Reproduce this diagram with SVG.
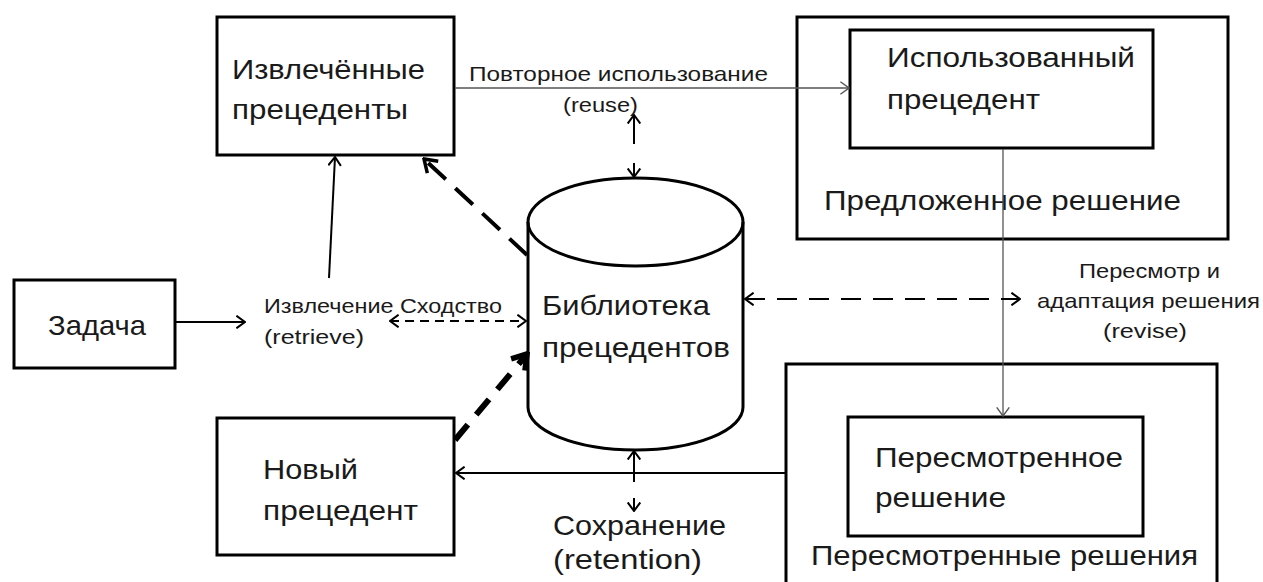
<svg xmlns="http://www.w3.org/2000/svg" width="1263" height="582" viewBox="0 0 1263 582">
<style>
.box{fill:#fff;stroke:#000;stroke-width:3}
.outer{fill:none;stroke:#000;stroke-width:3}
.t{font-family:"Liberation Sans",Arial,sans-serif;fill:#1a1a1a}
.big{font-size:28px}
.lbl{font-size:21px}
.thin{fill:none;stroke:#555;stroke-width:1.3}
.med{fill:none;stroke:#000;stroke-width:2}
</style>
<defs>
<marker id="ah" viewBox="0 0 10 14" markerUnits="userSpaceOnUse" markerWidth="10" markerHeight="14" refX="9.3" refY="7" orient="auto-start-reverse">
<path d="M0.7,0.7 L9.3,7 L0.7,13.3" fill="none" stroke="#000" stroke-width="2"/>
</marker>
<marker id="ahg" viewBox="0 0 10 14" markerUnits="userSpaceOnUse" markerWidth="10" markerHeight="14" refX="9.3" refY="7" orient="auto-start-reverse">
<path d="M0.7,0.7 L9.3,7 L0.7,13.3" fill="none" stroke="#555" stroke-width="1.4"/>
</marker>
<marker id="ahk" viewBox="0 0 16 20" markerUnits="userSpaceOnUse" markerWidth="16" markerHeight="20" refX="14" refY="10" orient="auto">
<path d="M2,2 L14,10 L2,18" fill="none" stroke="#000" stroke-width="3.5"/>
</marker>
<marker id="ahx" viewBox="0 0 20 24" markerUnits="userSpaceOnUse" markerWidth="20" markerHeight="24" refX="17" refY="12" orient="auto">
<path d="M3,3 L17,12 L3,21" fill="none" stroke="#000" stroke-width="5.5"/>
</marker>
</defs>

<g id="node-extracted">
<rect class="box" x="217" y="17" width="237" height="138"/>
<text class="t big" x="232" y="79" textLength="193" lengthAdjust="spacingAndGlyphs">Извлечённые</text>
<text class="t big" x="232" y="119" textLength="176" lengthAdjust="spacingAndGlyphs">прецеденты</text>
</g>

<g id="node-proposed">
<rect class="outer" x="797" y="17" width="431" height="222"/>
<rect class="box" x="850" y="30" width="303" height="118"/>
<text class="t big" x="887" y="67" textLength="248" lengthAdjust="spacingAndGlyphs">Использованный</text>
<text class="t big" x="887" y="109" textLength="153" lengthAdjust="spacingAndGlyphs">прецедент</text>
<text class="t big" x="824" y="210" textLength="357" lengthAdjust="spacingAndGlyphs">Предложенное решение</text>
</g>

<g id="node-task">
<rect class="box" x="14" y="280" width="161" height="88"/>
<text class="t big" x="48" y="335" textLength="98" lengthAdjust="spacingAndGlyphs">Задача</text>
</g>

<g id="node-library">
<path d="M528,222 L528,407 A107.5,43 0 0 0 743,407 L743,222 A107.5,44 0 0 0 528,222 Z" fill="#fff" stroke="#000" stroke-width="3"/>
<path d="M528,222 A107.5,44 0 0 0 743,222" fill="none" stroke="#000" stroke-width="3"/>
<text class="t big" x="542" y="315" textLength="168" lengthAdjust="spacingAndGlyphs">Библиотека</text>
<text class="t big" x="542" y="357" textLength="188" lengthAdjust="spacingAndGlyphs">прецедентов</text>
</g>

<g id="node-new">
<rect class="box" x="217" y="418" width="237" height="137"/>
<text class="t big" x="263" y="479" textLength="95" lengthAdjust="spacingAndGlyphs">Новый</text>
<text class="t big" x="263" y="520" textLength="155" lengthAdjust="spacingAndGlyphs">прецедент</text>
</g>

<g id="node-revised">
<path class="outer" d="M786,590 L786,364 L1217,364 L1217,590"/>
<rect class="box" x="848" y="417" width="295" height="119"/>
<text class="t big" x="875" y="467" textLength="248" lengthAdjust="spacingAndGlyphs">Пересмотренное</text>
<text class="t big" x="875" y="507" textLength="131" lengthAdjust="spacingAndGlyphs">решение</text>
<text class="t big" x="811" y="565" textLength="387" lengthAdjust="spacingAndGlyphs">Пересмотренные решения</text>
</g>

<g id="labels">
<text class="t lbl" x="469" y="81" textLength="299" lengthAdjust="spacingAndGlyphs">Повторное использование</text>
<text class="t lbl" x="563" y="112" textLength="75" lengthAdjust="spacingAndGlyphs">(reuse)</text>
<text class="t lbl" x="264" y="313" textLength="238" lengthAdjust="spacingAndGlyphs">Извлечение Сходство</text>
<text class="t lbl" x="264" y="344" textLength="100" lengthAdjust="spacingAndGlyphs">(retrieve)</text>
<text class="t lbl" x="1079" y="278" textLength="141" lengthAdjust="spacingAndGlyphs">Пересмотр и</text>
<text class="t lbl" x="1037" y="308" textLength="223" lengthAdjust="spacingAndGlyphs">адаптация решения</text>
<text class="t lbl" x="1103" y="338" textLength="84" lengthAdjust="spacingAndGlyphs">(revise)</text>
<text class="t big" x="553" y="535" textLength="173" lengthAdjust="spacingAndGlyphs">Сохранение</text>
<text class="t big" x="553" y="569" textLength="149" lengthAdjust="spacingAndGlyphs">(retention)</text>
</g>

<g id="connectors">
<line class="thin" x1="455" y1="88" x2="849" y2="88" marker-end="url(#ahg)"/>
<line class="thin" x1="1003" y1="149" x2="1003" y2="416" marker-end="url(#ahg)"/>
<line class="med" x1="176" y1="322" x2="245" y2="322" marker-end="url(#ah)"/>
<line class="med" x1="329" y1="278" x2="335" y2="157" marker-end="url(#ah)"/>
<line class="med" x1="786" y1="473" x2="456" y2="473" marker-end="url(#ah)"/>
<line class="med" x1="390" y1="321" x2="526" y2="321" stroke-dasharray="9 6" marker-start="url(#ah)" marker-end="url(#ah)"/>
<line class="med" x1="745" y1="299" x2="1020" y2="299" stroke-dasharray="20 12" marker-start="url(#ah)" marker-end="url(#ah)"/>
<line class="med" x1="634" y1="115" x2="634" y2="177" stroke-dasharray="29 19 100" marker-start="url(#ah)" marker-end="url(#ah)"/>
<line class="med" x1="634" y1="451" x2="634" y2="511" stroke-dasharray="31 16 100" marker-start="url(#ah)" marker-end="url(#ah)"/>
<line x1="527" y1="255" x2="424" y2="159" fill="none" stroke="#000" stroke-width="4" stroke-dasharray="24 13" marker-end="url(#ahk)"/>
<line x1="455" y1="440" x2="527" y2="354" fill="none" stroke="#000" stroke-width="6" stroke-dasharray="20 13" marker-end="url(#ahx)"/>
</g>
</svg>
